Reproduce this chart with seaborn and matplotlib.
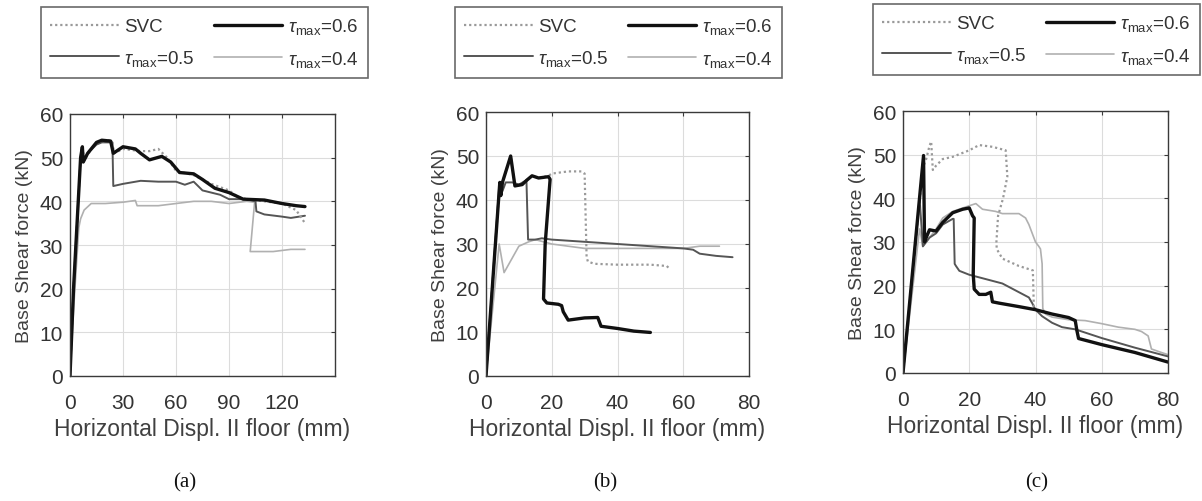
import numpy as np
import pandas as pd
import matplotlib
matplotlib.use("Agg")
import matplotlib.pyplot as plt
import seaborn as sns

# ---------------- data ----------------
# Panel (a)
a_svc_x = [0, 2, 6, 7, 8, 15, 22, 24, 25, 30, 40, 45, 50, 55, 60, 70, 80, 90, 95, 100, 110, 120, 128, 133]
a_svc_y = [0, 20, 50, 52.5, 49.5, 53.5, 54, 53.5, 51, 52, 51.5, 51.5, 52, 50, 47, 46, 44, 42.5, 41, 40.5, 40, 39.5, 38, 35]
a_t6_x = [0, 2, 6, 7, 7.5, 10, 15, 18, 23, 24.5, 30, 37, 40, 45, 52, 57, 62, 70, 75, 82, 90, 98, 110, 120, 128, 133]
a_t6_y = [0, 20, 50, 52.5, 49, 51, 53.5, 54, 53.8, 51, 52.5, 52, 51, 49.5, 50.3, 49, 46.6, 46.3, 45, 43, 42, 40.5, 40.3, 39.5, 39, 38.8]
a_t5_x = [0, 2, 6, 7, 7.5, 10, 15, 18, 24, 24.5, 30, 40, 50, 60, 65, 70, 75, 85, 90, 100, 105, 105.5, 110, 120, 125, 133]
a_t5_y = [0, 20, 50, 52, 49, 51, 53, 53.5, 53.5, 43.5, 44, 44.7, 44.5, 44.5, 43.8, 44.5, 42.5, 41.5, 40.5, 40.5, 40, 37.7, 37, 36.5, 36.2, 36.7]
a_t4_x = [0, 2, 5, 6, 8, 12, 20, 30, 37, 38, 50, 60, 70, 80, 90, 100, 104.5, 102, 115, 125, 133]
a_t4_y = [0, 15, 34, 36, 38, 39.5, 39.5, 39.8, 40.2, 39, 39, 39.5, 40, 40, 39.5, 40, 39.8, 28.5, 28.5, 29, 29]

# Panel (b)
b_svc_x = [0, 4.2, 4.5, 5, 7.5, 8.8, 11, 12.4, 14, 16, 19, 20, 25, 29, 30, 30.6, 31, 33, 40, 50, 55, 56]
b_svc_y = [0, 44, 41, 44, 50, 43.2, 43.5, 44.5, 45.5, 45, 45.5, 46, 46.5, 46.5, 46, 27, 26, 25.5, 25.3, 25.3, 25, 24.2]
b_t6_x = [0, 4.2, 4.5, 5, 7.5, 8.8, 11, 12.4, 14, 16, 19, 19.5, 18, 17.5, 18.5, 22, 23, 23.5, 25, 30, 34, 35, 40, 45, 50]
b_t6_y = [0, 44, 41, 44, 50, 43.2, 43.5, 44.5, 45.5, 45, 45.3, 44.7, 30, 17.5, 16.6, 16.3, 16, 14.6, 12.7, 13.2, 13.3, 11.3, 10.8, 10.2, 9.9]
b_t5_x = [0, 4, 5, 6, 8, 10, 12.3, 12.8, 15, 17, 20, 30, 40, 50, 60, 63, 65, 70, 75]
b_t5_y = [0, 43, 42, 44, 44, 43.5, 44.5, 31, 31, 31.3, 31, 30.5, 30, 29.5, 29, 28.7, 27.8, 27.3, 27]
b_t4_x = [0, 4, 5.5, 10, 13, 15, 20, 30, 40, 50, 60, 65, 71]
b_t4_y = [0, 30, 23.5, 29.5, 30.5, 31, 30, 29, 29, 29, 29, 29.5, 29.5]

# Panel (c)
c_svc_x = [0, 6, 7, 8, 8.5, 9, 10, 12, 15, 20, 23, 27, 31, 31.5, 30.2, 28.7, 28.2, 28.3, 30, 35, 39.2, 39.5]
c_svc_y = [0, 47, 49, 52, 53, 46.5, 47.5, 49, 49.5, 51, 52.2, 51.8, 51, 45, 40, 36, 30, 28.4, 26.2, 24.5, 23.5, 15]
c_t6_x = [0, 6.2, 6.5, 7, 8, 10, 12, 15, 18, 20, 21, 21.5, 21.2, 21.5, 23, 25, 26.5, 27, 29, 35, 40, 45, 50, 52, 52.5, 53, 60, 70, 80]
c_t6_y = [0, 49.8, 30, 31, 32.8, 32.5, 34.5, 36.7, 37.5, 37.8, 36, 35.5, 22.6, 19.2, 18, 18, 18.5, 16.3, 16, 15.2, 14.5, 13.5, 12.7, 12, 9.7, 7.9, 6.5, 4.7, 2.5]
c_t5_x = [0, 5, 6, 8, 10, 12, 15, 15.3, 15.6, 16, 17, 20, 25, 30, 35, 38, 39, 40, 42, 45, 48, 52, 60, 70, 80]
c_t5_y = [0, 40, 29, 31, 32, 34, 35.3, 35.3, 25, 24.5, 23.4, 22.5, 21.5, 20.5, 18.5, 17.3, 16, 14.5, 13, 11.5, 10.5, 10, 8, 5.8, 3.8]
c_t4_x = [0, 5, 6, 8, 10, 12, 15, 20, 22, 24, 28, 30, 35, 37, 38, 39, 40, 41, 41.5, 42, 42.2, 43, 45, 50, 55, 60, 65, 70, 72, 74, 75, 78, 80]
c_t4_y = [0, 33, 29, 31, 33, 35.5, 37, 38.3, 38.8, 37.5, 37, 36.5, 36.5, 35.5, 34, 32, 30, 29, 28.4, 25, 14.8, 13.5, 12.8, 12.2, 12, 11.3, 10.5, 10, 9.5, 8.5, 5.5, 4.7, 4.2]

series_names = ["SVC", r"$\tau_{\rm max}$=0.6", r"$\tau_{\rm max}$=0.5", r"$\tau_{\rm max}$=0.4"]
panel_captions = ["(a)", "(b)", "(c)"]
panel_xticks = [[0, 30, 60, 90, 120], [0, 20, 40, 60, 80], [0, 20, 40, 60, 80]]
panel_xlims = [(0, 150), (0, 80), (0, 80)]
y_ticks = [0, 10, 20, 30, 40, 50, 60]

panels = [
    [(a_svc_x, a_svc_y), (a_t6_x, a_t6_y), (a_t5_x, a_t5_y), (a_t4_x, a_t4_y)],
    [(b_svc_x, b_svc_y), (b_t6_x, b_t6_y), (b_t5_x, b_t5_y), (b_t4_x, b_t4_y)],
    [(c_svc_x, c_svc_y), (c_t6_x, c_t6_y), (c_t5_x, c_t5_y), (c_t4_x, c_t4_y)],
]

# ---------------- styling ----------------
sns.set_style("white")
plt.rcParams["font.family"] = ["Liberation Sans", "DejaVu Sans"]
plt.rcParams["mathtext.fontset"] = "custom"
plt.rcParams["mathtext.rm"] = "Liberation Sans"
plt.rcParams["mathtext.it"] = "Liberation Sans:italic"

styles = [
    dict(color="#9a9a9a", lw=1.6, ls=(0, (1, 1.3))),
    dict(color="#111111", lw=2.4, ls="-"),
    dict(color="#555555", lw=1.4, ls="-"),
    dict(color="#b0b0b0", lw=1.2, ls="-"),
]
draw_order = [3, 2, 0, 1]

fig = plt.figure(figsize=(12.02, 5.02), dpi=100)
W, H = 1202, 502
axes_px = [(70, 335, 115, 377), (486, 749, 113, 377), (903, 1168, 112, 374)]
legend_px = [(41, 8), (455, 8), (873, 5)]
caption_px = [185, 605, 1037]

for i, data in enumerate(panels):
    l, r, t, b = axes_px[i]
    ax = fig.add_axes([l / W, (H - b) / H, (r - l) / W, (b - t) / H])
    for k in draw_order:
        xs, ys = data[k]
        df = pd.DataFrame({"x": xs, "y": ys})
        sns.lineplot(data=df, x="x", y="y", sort=False, estimator=None, ax=ax,
                     color=styles[k]["color"], linewidth=styles[k]["lw"],
                     linestyle=styles[k]["ls"], label=series_names[k])
    ax.set_xlim(*panel_xlims[i])
    ax.set_ylim(0, 60)
    ax.set_xticks(panel_xticks[i])
    ax.set_yticks(y_ticks)
    ax.grid(True, color="#dcdcdc", lw=0.8)
    ax.set_axisbelow(True)
    for s in ax.spines.values():
        s.set_color("#3a3a3a")
        s.set_linewidth(1.0)
    ax.tick_params(direction="in", length=3, width=0.8, colors="#3a3a3a",
                   labelcolor="#333333", labelsize=15, top=True, right=True)
    ax.tick_params(axis="x", pad=12)
    ax.tick_params(axis="y", pad=5)
    ax.set_xlabel("Horizontal Displ. II floor (mm)", fontsize=16.5, color="#404040", labelpad=4)
    ax.set_ylabel("Base Shear force (kN)", fontsize=14, color="#404040", labelpad=5)

    hl, ll = ax.get_legend_handles_labels()
    hmap = dict(zip(ll, hl))
    order = [series_names[0], series_names[2], series_names[1], series_names[3]]
    lx0, ly0 = legend_px[i]
    leg = ax.legend([hmap[n] for n in order], order, ncol=2,
                    loc="upper left", bbox_to_anchor=(lx0 / W, 1 - ly0 / H),
                    bbox_transform=fig.transFigure, borderaxespad=0,
                    fontsize=13.5, handlelength=3.65, handletextpad=0.3,
                    columnspacing=1.0, labelspacing=0.65, borderpad=0.5,
                    frameon=True, fancybox=False, labelcolor="#333333")
    leg.get_frame().set_edgecolor("#444444")
    leg.get_frame().set_linewidth(1.2)

    fig.text(caption_px[i] / W, 1 - 483 / H, panel_captions[i], ha="center", va="center",
             fontsize=15, family="Liberation Serif", color="#111111")

fig.savefig("out.png", dpi=100)
